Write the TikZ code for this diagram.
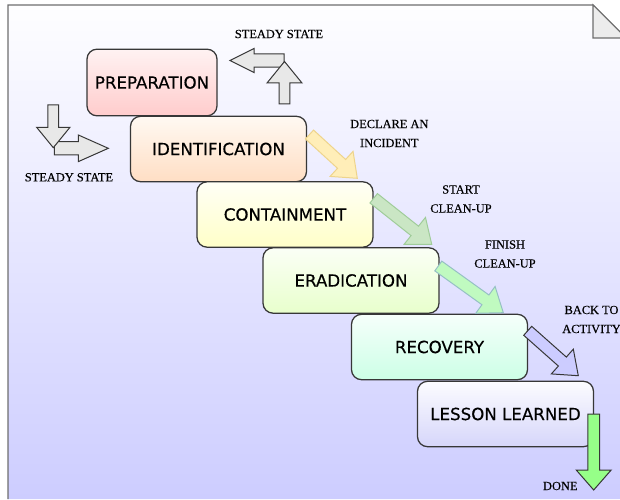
\documentclass[tikz,border=0pt]{standalone}
\usepackage{fontspec}
\setmainfont{Liberation Serif}
\newfontfamily\notefont[FakeBold=0.3]{Liberation Serif}
\newfontfamily\stagefont[FakeBold=0.4]{DejaVu Sans}
\usepackage{tikz}
\usetikzlibrary{calc}
\definecolor{bgtop}{RGB}{254,254,255}
\definecolor{bgbottom}{RGB}{205,205,255}
\definecolor{pageline}{RGB}{110,110,110}
\definecolor{foldgray}{RGB}{236,236,236}
\definecolor{stageline}{RGB}{55,55,55}
\definecolor{arrowgray}{RGB}{232,232,232}
\definecolor{prepA}{RGB}{255,242,242} \definecolor{prepB}{RGB}{255,204,204}
\definecolor{identA}{RGB}{255,249,242} \definecolor{identB}{RGB}{255,222,196}
\definecolor{containA}{RGB}{255,255,246} \definecolor{containB}{RGB}{255,255,200}
\definecolor{eradA}{RGB}{251,255,246} \definecolor{eradB}{RGB}{232,255,204}
\definecolor{recovA}{RGB}{246,255,251} \definecolor{recovB}{RGB}{204,255,230}
\definecolor{lessonA}{RGB}{252,252,255} \definecolor{lessonB}{RGB}{214,214,250}
\definecolor{declfill}{RGB}{255,238,184} \definecolor{declline}{RGB}{238,212,140}
\definecolor{startfill}{RGB}{202,230,196} \definecolor{startline}{RGB}{160,204,154}
\definecolor{finfill}{RGB}{192,250,192} \definecolor{finline}{RGB}{150,192,196}
\definecolor{backfill}{RGB}{204,204,255}
\definecolor{donefill}{RGB}{150,255,136}
% block arrow: [style]{tail}{tip}{shaft half width}{head half width}{head length}
\newcommand{\blockarrow}[6][]{%
  \coordinate (ba-h) at ($(#3)!#6!(#2)$);
  \draw[#1] ($(#2)!#4!90:(#3)$) -- ($(ba-h)!#4!90:(#3)$) -- ($(ba-h)!#5!90:(#3)$) -- (#3)
    -- ($(ba-h)!#5!-90:(#3)$) -- ($(ba-h)!#4!-90:(#3)$) -- ($(#2)!#4!-90:(#3)$) -- cycle;
}

\begin{document}
\begin{tikzpicture}[x=0.75pt, y=-0.75pt,
    stage/.style 2 args={draw=stageline, line width=0.95pt, rounded corners=7.5pt, top color=#1, bottom color=#2,
      minimum width=132pt, minimum height=49pt, font=\stagefont\fontsize{12.5}{15}\selectfont},
    note/.style={align=center, font=\notefont\fontsize{9.3}{14.25}\selectfont, inner sep=0pt},
    grayarrow/.style={fill=arrowgray, draw=stageline, line width=0.75pt},
    flowarrow/.style={line width=0.75pt}]
  \useasboundingbox (0,0) rectangle (620,499);
  \clip (0,0) rectangle (620,499);

  % page with folded corner
  \shade[top color=bgtop, bottom color=bgbottom] (8,5) -- (593,5) -- (626,38) -- (626,499) -- (8,499) -- cycle;
  \draw[pageline, line width=0.8pt] (8,499) -- (8,5) -- (593,5) -- (626,38);
  \filldraw[fill=foldgray, draw=pageline, line width=0.8pt] (593,5) -- (593,38) -- (626,38) -- cycle;

  % stages
  \node[stage={prepA}{prepB}, minimum width=97.5pt, minimum height=50pt] (prep) at (152,82.5) {PREPARATION};
  \node[stage={identA}{identB}] (ident) at (218.5,149) {IDENTIFICATION};
  \node[stage={containA}{containB}] (contain) at (285,214.5) {CONTAINMENT};
  \node[stage={eradA}{eradB}] (erad) at (351,280.5) {ERADICATION};
  \node[stage={recovA}{recovB}] (recov) at (439.5,347) {RECOVERY};
  \node[stage={lessonA}{lessonB}] (lesson) at (505.5,414) {LESSON LEARNED};

  % steady state arrows
  \coordinate (left-t) at (284,60.5); \coordinate (left-p) at (230,60.5);
  \coordinate (up-t) at (284.5,104); \coordinate (up-p) at (284.5,61.5);
  \coordinate (right-t) at (54.3,148.3); \coordinate (right-p) at (108.3,148.3);
  \coordinate (down-t) at (53.3,105); \coordinate (down-p) at (53.3,147.7);
  \blockarrow[grayarrow]{left-t}{left-p}{4.9pt}{9pt}{18pt}
  \blockarrow[grayarrow]{up-t}{up-p}{4.1pt}{13.1pt}{16.1pt}
  \blockarrow[grayarrow]{right-t}{right-p}{5pt}{10pt}{22.5pt}
  \blockarrow[grayarrow]{down-t}{down-p}{4pt}{12.5pt}{15.3pt}

  % arrows between stages
  \coordinate (decl-t) at (309.5,134.5); \coordinate (decl-p) at (357.3,178.3);
  \coordinate (start-t) at (373.7,198.3); \coordinate (start-p) at (431.7,244.3);
  \coordinate (fin-t) at (438.3,266); \coordinate (fin-p) at (503.3,312.7);
  \coordinate (back-t) at (527.7,330.8); \coordinate (back-p) at (578.3,375.7);
  \coordinate (done-t) at (593.7,414); \coordinate (done-p) at (593.7,490);
  \blockarrow[flowarrow, fill=declfill, draw=declline]{decl-t}{decl-p}{4.5pt}{12.75pt}{16pt}
  \blockarrow[flowarrow, fill=startfill, draw=startline]{start-t}{start-p}{4.5pt}{12.9pt}{16.2pt}
  \blockarrow[flowarrow, fill=finfill, draw=finline]{fin-t}{fin-p}{4.5pt}{12.4pt}{16.5pt}
  \blockarrow[flowarrow, fill=backfill, draw=stageline]{back-t}{back-p}{4.5pt}{12.4pt}{16pt}
  \blockarrow[flowarrow, fill=donefill, draw=stageline]{done-t}{done-p}{4.35pt}{13.1pt}{15pt}

  % labels
  \node[note] (steady-top) at (279,34) {STEADY STATE};
  \node[note] (steady-left) at (69,177.3) {STEADY STATE};
  \node[note] (declare) at (389.3,133.5) {DECLARE AN\\INCIDENT};
  \node[note] (start) at (461,199) {START\\CLEAN-UP};
  \node[note] (finish) at (505,254) {FINISH\\CLEAN-UP};
  \node[note] (back) at (591.5,319.5) {BACK TO\\ACTIVITY};
  \node[note] (done) at (560.3,486) {DONE};
\end{tikzpicture}
\end{document}
